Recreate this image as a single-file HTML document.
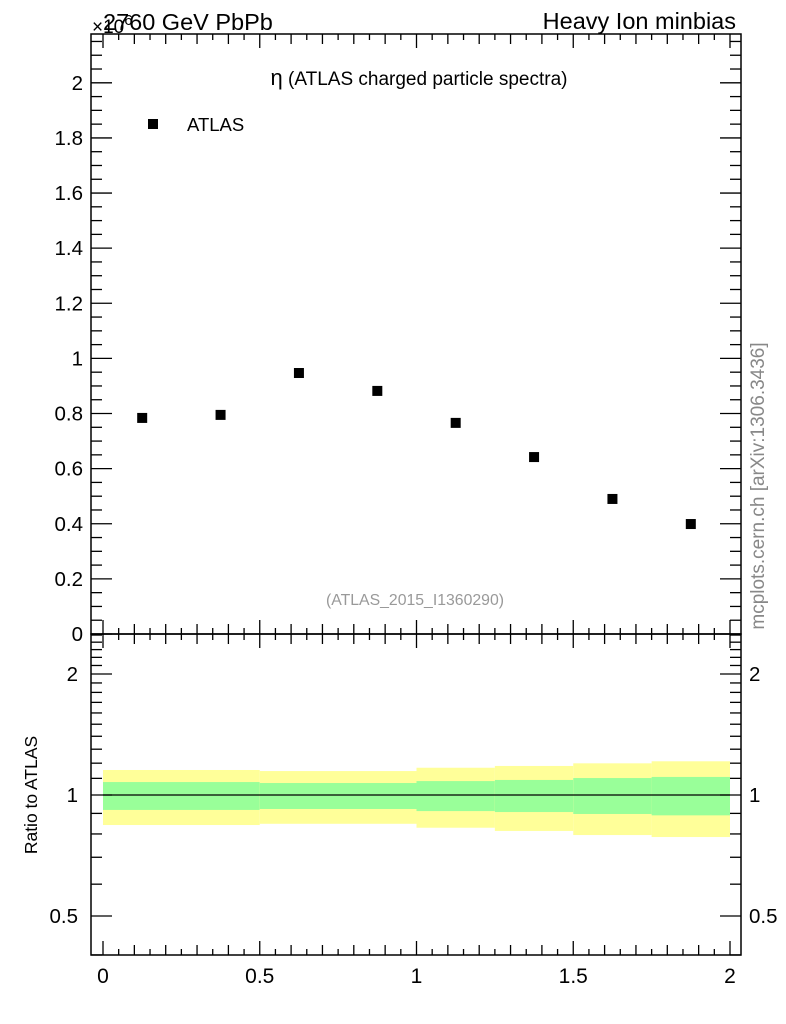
<!DOCTYPE html>
<html><head><meta charset="utf-8">
<style>
body{margin:0;background:#fff;}
svg{display:block;font-family:"Liberation Sans","DejaVu Sans",sans-serif;}
</style></head>
<body>
<svg id="chart" width="786" height="1024" viewBox="0 0 786 1024">
<g id="bands"></g>
<g id="axes"></g>
<g id="points"></g>
<text x="103" y="30" font-size="23.5">2760 GeV PbPb</text>
<text x="92" y="33" font-size="19">×10<tspan dy="-8" font-size="15">6</tspan></text>
<text x="736" y="29" font-size="23.5" text-anchor="end">Heavy Ion minbias</text>
<text x="419" y="85" font-size="19" text-anchor="middle"><tspan font-size="22">η</tspan> (ATLAS charged particle spectra)</text>
<rect x="148" y="119" width="10" height="10" fill="#000"/>
<text x="187" y="131" font-size="18.5">ATLAS</text>
<text x="415" y="605" font-size="15.8" fill="#999" text-anchor="middle">(ATLAS_2015_I1360290)</text>
<text transform="translate(764,486) rotate(-90)" font-size="19" fill="#888" text-anchor="middle">mcplots.cern.ch [arXiv:1306.3436]</text>
<text transform="translate(37,795) rotate(-90)" font-size="17.5" text-anchor="middle">Ratio to ATLAS</text>
</svg>
<script>
const xCenters=[0.125,0.375,0.625,0.875,1.125,1.375,1.625,1.875];
const yValues=[0.784,0.795,0.947,0.882,0.766,0.642,0.490,0.399];
const bandEdges=[0,0.5,1,1.25,1.5,1.75,2];
const yellowHi=[1.154,1.147,1.169,1.181,1.199,1.213];
const greenHi=[1.077,1.071,1.083,1.090,1.102,1.109];
const greenLo=[0.918,0.923,0.912,0.907,0.897,0.890];
const yellowLo=[0.842,0.848,0.829,0.814,0.795,0.786];
const mainTicks=["0","0.2","0.4","0.6","0.8","1","1.2","1.4","1.6","1.8","2"];
const xTicks=["0","0.5","1","1.5","2"];
const ratioTicks=["0.5","1","2"];

const NS="http://www.w3.org/2000/svg";
const L=91,R=741,T=34,MB=634,RB=955;
const X=v=>103+v*313.5;
const Y=v=>634-v*275.6;
const RY=v=>795-Math.log2(v)*121;
function mk(tag,attrs,parent){const e=document.createElementNS(NS,tag);for(const k in attrs)e.setAttribute(k,attrs[k]);parent.appendChild(e);return e;}
const axes=document.getElementById('axes'),bands=document.getElementById('bands'),pts=document.getElementById('points');

for(let i=0;i<yellowHi.length;i++){
  const x0=X(bandEdges[i]),x1=X(bandEdges[i+1]);
  const y1=mk('rect',{x:x0,y:RY(yellowHi[i]),width:x1-x0,height:RY(yellowLo[i])-RY(yellowHi[i]),fill:'#ffff99'},bands);
  
  
  const g=mk('rect',{x:x0,y:RY(greenHi[i]),width:x1-x0,height:RY(greenLo[i])-RY(greenHi[i]),fill:'#99ff99'},bands);
  
  
}
const ref=mk('line',{x1:X(0),x2:X(2),y1:RY(1),y2:RY(1),stroke:'#000','stroke-width':1.2},bands);



const st={stroke:'#000','stroke-width':1.3};
const f1=mk('rect',{x:L,y:T,width:R-L,height:MB-T,fill:'none',stroke:'#000','stroke-width':1.5},axes);


const f2=mk('rect',{x:L,y:MB,width:R-L,height:RB-MB,fill:'none',stroke:'#000','stroke-width':1.5},axes);



for(let k=0;k<=43;k++){const v=k*0.05;const y=Y(v);if(y<T)break;const len=k%4==0?21:11;
  mk('line',Object.assign({x1:L,x2:L+len,y1:y,y2:y},st),axes);mk('line',Object.assign({x1:R,x2:R-len,y1:y,y2:y},st),axes);}
mainTicks.forEach(t=>{const e=mk('text',{x:L-8,y:Y(+t)+7,'font-size':20.5,'text-anchor':'end'},axes);e.textContent=t;
  
  });
for(let k=-2;k<=41;k++){const v=k*0.05;const x=X(v);if(x<L||x>R)continue;const len=k%10==0?14:(k%2==0?10:6);
  mk('line',Object.assign({x1:x,x2:x,y1:T,y2:T+len},st),axes);
  mk('line',Object.assign({x1:x,x2:x,y1:MB,y2:MB-len},st),axes);
  mk('line',Object.assign({x1:x,x2:x,y1:MB,y2:MB+len},st),axes);
  mk('line',Object.assign({x1:x,x2:x,y1:RB,y2:RB-len},st),axes);}
xTicks.forEach(t=>{const e=mk('text',{x:X(+t),y:983,'font-size':21,'text-anchor':'middle'},axes);e.textContent=t;
  
  });
for(let k=4;k<=25;k++){const v=k/10;const y=RY(v);if(y<MB||y>RB)continue;const len=(k==5||k==10||k==20)?21:11;
  mk('line',Object.assign({x1:L,x2:L+len,y1:y,y2:y},st),axes);mk('line',Object.assign({x1:R,x2:R-len,y1:y,y2:y},st),axes);}
ratioTicks.forEach(t=>{const y=RY(+t)+7;
  const a=mk('text',{x:L-13,y:y,'font-size':20.5,'text-anchor':'end'},axes);a.textContent=t;
  
  
  const b=mk('text',{x:R+8,y:y,'font-size':20.5},axes);b.textContent=t;
  
  });

xCenters.forEach((c,i)=>{const r=mk('rect',{x:X(c)-5,y:Y(yValues[i])-5,width:10,height:10,fill:'#000'},pts);
  
  });
</script>
</body></html>
